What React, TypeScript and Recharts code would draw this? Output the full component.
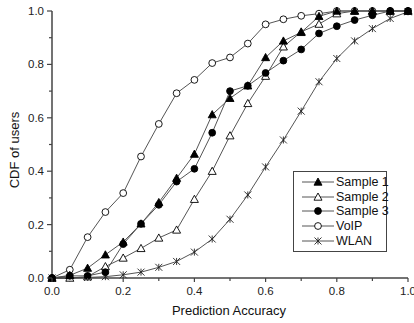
import React from 'react';
import { LineChart, Line, XAxis, YAxis } from 'recharts';

const accuracy = [0, 0.05, 0.1, 0.15, 0.2, 0.25, 0.3, 0.35, 0.4, 0.45, 0.5, 0.55, 0.6, 0.65, 0.7, 0.75, 0.8, 0.85, 0.9, 0.95, 1.0];
const sample1 = [0, 0.01, 0.037, 0.087, 0.135, 0.203, 0.283, 0.374, 0.464, 0.612, 0.673, 0.72, 0.826, 0.888, 0.92, 0.98, 1, 1, 1, 1, 1];
const sample2 = [0, 0, 0.005, 0.043, 0.075, 0.111, 0.15, 0.18, 0.295, 0.4, 0.533, 0.654, 0.756, 0.866, 0.922, 0.951, 0.99, 1, 1, 1, 1];
const sample3 = [0, 0.008, 0.008, 0.022, 0.127, 0.203, 0.274, 0.361, 0.409, 0.544, 0.7, 0.72, 0.768, 0.814, 0.856, 0.916, 0.943, 0.966, 0.984, 1, 1];
const voip = [0, 0.031, 0.153, 0.247, 0.318, 0.455, 0.577, 0.692, 0.742, 0.805, 0.826, 0.878, 0.95, 0.969, 0.982, 0.99, 1, 1, 1, 1, 1];
const wlan = [0, 0, 0.002, 0.005, 0.012, 0.022, 0.04, 0.062, 0.097, 0.146, 0.22, 0.311, 0.416, 0.517, 0.625, 0.735, 0.822, 0.888, 0.934, 0.972, 0.997];

const axisTicks = [0, 0.1, 0.2, 0.3, 0.4, 0.5, 0.6, 0.7, 0.8, 0.9, 1.0];

const data = accuracy.map((x, i) => ({
  x,
  s1: sample1[i],
  s2: sample2[i],
  s3: sample3[i],
  voip: voip[i],
  wlan: wlan[i],
}));

const FONT = '"Liberation Sans", Arial, sans-serif';
const LINE = '#555';
const AXIS = '#444';

type Shape = 'triUp' | 'triOpen' | 'circle' | 'circleOpen' | 'star';

const Marker = ({ cx, cy, shape }: { cx: number; cy: number; shape: Shape }) => {
  if (cx == null || cy == null) return null;
  if (shape === 'triUp' || shape === 'triOpen') {
    const s = 4;
    const pts = `${cx},${cy - s} ${cx - s},${cy + s * 0.8} ${cx + s},${cy + s * 0.8}`;
    return (
      <polygon
        points={pts}
        fill={shape === 'triUp' ? '#000' : '#fff'}
        stroke="#000"
        strokeWidth={0.9}
      />
    );
  }
  if (shape === 'circle' || shape === 'circleOpen') {
    return (
      <circle
        cx={cx}
        cy={cy}
        r={3.4}
        fill={shape === 'circle' ? '#000' : '#fff'}
        stroke="#000"
        strokeWidth={0.9}
      />
    );
  }
  const s = 3.5;
  return (
    <g stroke="#222" strokeWidth={0.9}>
      <line x1={cx - s} y1={cy - s} x2={cx + s} y2={cy + s} />
      <line x1={cx - s} y1={cy + s} x2={cx + s} y2={cy - s} />
      <line x1={cx} y1={cy - s} x2={cx} y2={cy + s} />
    </g>
  );
};

const dotFor = (shape: Shape) => (p: any) => (
  <Marker key={`${shape}-${p.index}`} cx={p.cx} cy={p.cy} shape={shape} />
);

const isMinor = (v: number) => Math.round(v * 10) % 2 === 1;

const YTick = (props: any) => {
  const { x, y, payload } = props;
  const minor = isMinor(payload.value);
  const len = minor ? 3 : 5;
  return (
    <g>
      <line x1={x - len} y1={y} x2={x} y2={y} stroke={AXIS} strokeWidth={1.2} />
      {!minor && (
        <text x={x - 8} y={y} dy={4} textAnchor="end" fontSize={11.5} fontFamily={FONT} fill="#222">
          {payload.value.toFixed(1)}
        </text>
      )}
    </g>
  );
};

const XTick = (props: any) => {
  const { x, y, payload } = props;
  const minor = isMinor(payload.value);
  const len = minor ? 3 : 4;
  return (
    <g>
      <line x1={x} y1={y} x2={x} y2={y + len} stroke={AXIS} strokeWidth={1.2} />
      {!minor && (
        <text x={x} y={y + 17} textAnchor="middle" fontSize={11.5} fontFamily={FONT} fill="#222">
          {payload.value.toFixed(1)}
        </text>
      )}
    </g>
  );
};

const legendItems: { label: string; shape: Shape }[] = [
  { label: 'Sample 1', shape: 'triUp' },
  { label: 'Sample 2', shape: 'triOpen' },
  { label: 'Sample 3', shape: 'circle' },
  { label: 'VoIP', shape: 'circleOpen' },
  { label: 'WLAN', shape: 'star' },
];

const LegendBox = () => (
  <div
    style={{
      position: 'absolute',
      left: 293,
      top: 171,
      width: 92,
      height: 76,
      border: '1px solid #444',
      background: '#fff',
      padding: '3px 0 0 0',
      boxSizing: 'content-box',
      fontFamily: FONT,
      whiteSpace: 'nowrap',
    }}
  >
    {legendItems.map((item) => (
      <div key={item.label} style={{ display: 'flex', alignItems: 'center', height: 14.6 }}>
        <svg width={41} height={14} style={{ display: 'block', flexShrink: 0 }}>
          <line x1={8} y1={7} x2={40} y2={7} stroke={LINE} strokeWidth={1} />
          <Marker cx={24} cy={7} shape={item.shape} />
        </svg>
        <span style={{ fontSize: 12.5, color: '#111', marginLeft: 1, lineHeight: '14px' }}>{item.label}</span>
      </div>
    ))}
  </div>
);

export default function App() {
  return (
    <div style={{ position: 'absolute', left: 0, top: 0, width: 414, height: 323, background: '#fff' }}>
      <LineChart
        width={414}
        height={323}
        data={data}
        margin={{ top: 11, right: 6, bottom: 15, left: 12 }}
      >
        <XAxis
          dataKey="x"
          type="number"
          domain={[0, 1]}
          ticks={axisTicks}
          interval={0}
          height={30}
          tickSize={0}
          tickMargin={0}
          tick={<XTick />}
          axisLine={{ stroke: AXIS, strokeWidth: 1.5 }}
          tickLine={false}
        />
        <YAxis
          type="number"
          domain={[0, 1]}
          ticks={axisTicks}
          interval={0}
          width={40}
          tickSize={0}
          tickMargin={0}
          tick={<YTick />}
          axisLine={{ stroke: AXIS, strokeWidth: 1.5 }}
          tickLine={false}
        />
        <Line dataKey="wlan" name="WLAN" type="linear" stroke={LINE} strokeWidth={1} dot={dotFor('star')} activeDot={false} isAnimationActive={false} />
        <Line dataKey="voip" name="VoIP" type="linear" stroke={LINE} strokeWidth={1} dot={dotFor('circleOpen')} activeDot={false} isAnimationActive={false} />
        <Line dataKey="s2" name="Sample 2" type="linear" stroke={LINE} strokeWidth={1} dot={dotFor('triOpen')} activeDot={false} isAnimationActive={false} />
        <Line dataKey="s3" name="Sample 3" type="linear" stroke={LINE} strokeWidth={1} dot={dotFor('circle')} activeDot={false} isAnimationActive={false} />
        <Line dataKey="s1" name="Sample 1" type="linear" stroke={LINE} strokeWidth={1} dot={dotFor('triUp')} activeDot={false} isAnimationActive={false} />
      </LineChart>
      <LegendBox />
      <div
        style={{
          position: 'absolute',
          left: 0,
          width: 414,
          top: 303,
          textAlign: 'center',
          paddingLeft: 44,
          boxSizing: 'border-box',
          fontFamily: FONT,
          fontSize: 13,
          color: '#111',
        }}
      >
        Prediction Accuracy
      </div>
      <div
        style={{
          position: 'absolute',
          left: 14,
          top: 150,
          transform: 'translate(-50%, -50%) rotate(-90deg)',
          whiteSpace: 'nowrap',
          fontFamily: FONT,
          fontSize: 13,
          color: '#111',
        }}
      >
        CDF of users
      </div>
    </div>
  );
}
